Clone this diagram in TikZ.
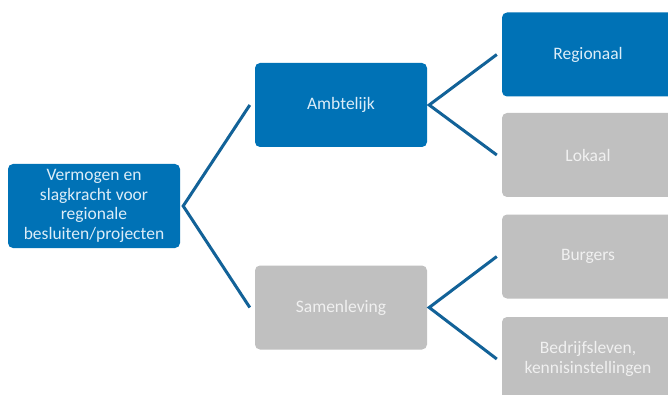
\documentclass[tikz,border=0pt]{standalone}
\usepackage{fontspec}
\setmainfont{Carlito}
\usetikzlibrary{calc}
\definecolor{boxblue}{RGB}{0,114,182}
\definecolor{boxgray}{RGB}{192,192,192}
\definecolor{linkblue}{RGB}{18,98,152}
\definecolor{txtblue}{RGB}{220,237,248}
\definecolor{txtgray}{RGB}{240,240,240}
\begin{document}
\begin{tikzpicture}[x=1pt,y=-1pt,
  box/.style={rounded corners=5pt, minimum width=172pt, minimum height=84pt, inner sep=2pt, align=center, font=\fontsize{17.5}{19.5}\selectfont},
  bluebox/.style={box, fill=boxblue, text=txtblue},
  graybox/.style={box, fill=boxgray, text=txtgray},
  link/.style={draw=linkblue, line width=3pt}]
\useasboundingbox[fill=white] (0,0) rectangle (668,395);
\node[bluebox] (root) at (94,206) {Vermogen en\\slagkracht voor\\regionale\\besluiten/projecten};
\node[bluebox] (amb) at (341,105) {Ambtelijk};
\node[graybox] (sam) at (341,307.5) {Samenleving};
\node[bluebox] (reg) at (588,54.5) {Regionaal};
\node[graybox] (lok) at (588,155) {Lokaal};
\node[graybox] (bur) at (588,256.5) {Burgers};
\node[graybox] (bed) at (588,359) {Bedrijfsleven,\\kennisinstellingen};
\draw[link] ($(amb.west)+(-5,0)$) -- ($(root.east)+(3,0)$) -- ($(sam.west)+(-5,0)$);
\draw[link] ($(reg.west)+(-5,0)$) -- ($(amb.east)+(2,0)$) -- ($(lok.west)+(-5,0)$);
\draw[link] ($(bur.west)+(-5,0)$) -- ($(sam.east)+(2,0)$) -- ($(bed.west)+(-5,0)$);
\end{tikzpicture}
\end{document}
